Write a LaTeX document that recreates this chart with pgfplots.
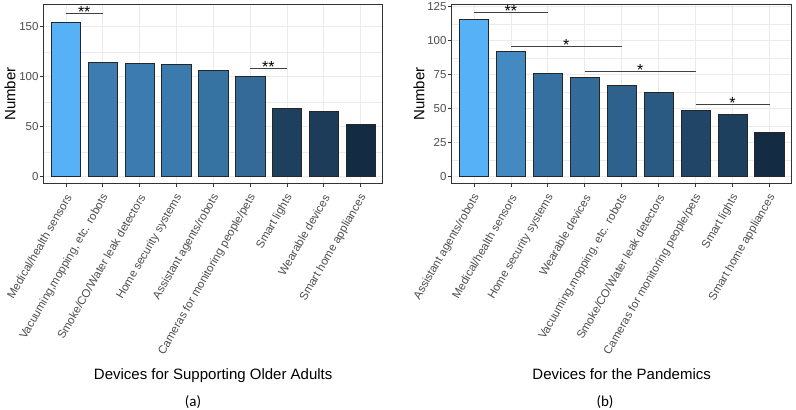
\documentclass[border=0pt]{standalone}
\usepackage{pgfplots}
\pgfplotsset{compat=1.18}
\usepackage{fontspec}
\setmainfont{Liberation Sans}
\newfontfamily\capfont{Carlito}
\definecolor{tickgrey}{HTML}{4D4D4D}
\definecolor{framegrey}{HTML}{333333}
\definecolor{gridgrey}{HTML}{EBEBEB}
\definecolor{sigline}{HTML}{404040}
% left panel bar colours
\definecolor{La}{RGB}{86,177,247}
\definecolor{Lb}{RGB}{60,124,176}
\definecolor{Lc}{RGB}{59,123,175}
\definecolor{Ld}{RGB}{58,122,173}
\definecolor{Le}{RGB}{54,114,162}
\definecolor{Lf}{RGB}{51,106,152}
\definecolor{Lg}{RGB}{29,64,95}
\definecolor{Lh}{RGB}{28,60,90}
\definecolor{Li}{RGB}{19,43,67}
% right panel bar colours
\definecolor{Ra}{RGB}{86,177,247}
\definecolor{Rb}{RGB}{67,138,195}
\definecolor{Rc}{RGB}{54,112,160}
\definecolor{Rd}{RGB}{51,108,154}
\definecolor{Re}{RGB}{46,98,141}
\definecolor{Rf}{RGB}{42,90,130}
\definecolor{Rg}{RGB}{32,69,102}
\definecolor{Rh}{RGB}{29,64,95}
\definecolor{Ri}{RGB}{19,43,67}
\pgfplotsset{
  panel/.style={
    scale only axis, height=179pt, anchor=south west,
    xmin=0.4, xmax=9.6, xtick={1,...,9},
    axis line style={framegrey, line width=0.8pt},
    grid=both,
    major grid style={gridgrey, line width=0.6pt},
    minor grid style={gridgrey, line width=0.3pt},
    tick align=outside, major tick length=4pt, minor tick length=0pt,
    tick style={framegrey, line width=0.6pt},
    tick pos=left,
    minor x tick num=0, minor y tick num=1,
    /pgf/number format/assume math mode=true,
    ticklabel style={font=\fontsize{11.5}{13}\selectfont, text=tickgrey},
    xticklabel style={xshift=3pt, yshift=-8pt, rotate=60, anchor=east, inner sep=0pt},
    yticklabel style={inner sep=1pt},
    clip=false,
  },
  bar/.style={ybar, bar width=0.8, bar shift=0pt, fill=#1, draw=black!85, line width=0.5pt},
  sig/.style={sigline, line width=0.6pt, no marks, sharp plot},
}
\tikzset{sigstar/.style={anchor=base, yshift=-4pt, inner sep=0pt, font=\fontsize{16}{16}\selectfont}}
\begin{document}
\begin{tikzpicture}
\useasboundingbox (0,0) rectangle (796pt,410pt);
% ---------------- left panel ----------------
\begin{axis}[panel, width=339pt, at={(43.7pt,226.7pt)},
  ymin=-6.6, ymax=172.4, ytick={0,50,100,150},
  xticklabels={Medical/health sensors,{Vacuuming,mopping, etc. robots},Smoke/CO/Water leak detectors,Home security systems,Assistant agents/robots,Cameras for monitoring people/pets,Smart lights,Wearable devices,Smart home appliances}]
\addplot[bar=La] coordinates {(1,154)};
\addplot[bar=Lb] coordinates {(2,114)};
\addplot[bar=Lc] coordinates {(3,113)};
\addplot[bar=Ld] coordinates {(4,112)};
\addplot[bar=Le] coordinates {(5,106)};
\addplot[bar=Lf] coordinates {(6,100)};
\addplot[bar=Lg] coordinates {(7,68)};
\addplot[bar=Lh] coordinates {(8,65)};
\addplot[bar=Li] coordinates {(9,52)};
\addplot[sig] coordinates {(1,163.5) (2,163.5)};
\addplot[sig] coordinates {(6,108.4) (7,108.4)};
\node[sigstar] at (axis cs:1.5,163.5) {**};
\node[sigstar] at (axis cs:6.5,108.4) {**};
\end{axis}
% ---------------- right panel ----------------
\begin{axis}[panel, width=340pt, at={(451.7pt,226.7pt)},
  ymin=-4.85, ymax=126.8, ytick={0,25,50,75,100,125},
  xticklabels={Assistant agents/robots,Medical/health sensors,Home security systems,Wearable devices,{Vacuuming,mopping, etc. robots},Smoke/CO/Water leak detectors,Cameras for monitoring people/pets,Smart lights,Smart home appliances}]
\addplot[bar=Ra] coordinates {(1,116)};
\addplot[bar=Rb] coordinates {(2,92)};
\addplot[bar=Rc] coordinates {(3,76)};
\addplot[bar=Rd] coordinates {(4,73)};
\addplot[bar=Re] coordinates {(5,67)};
\addplot[bar=Rf] coordinates {(6,62)};
\addplot[bar=Rg] coordinates {(7,49)};
\addplot[bar=Rh] coordinates {(8,46)};
\addplot[bar=Ri] coordinates {(9,33)};
\addplot[sig] coordinates {(1,120.9) (3,120.9)};
\addplot[sig] coordinates {(2,95.9) (5,95.9)};
\addplot[sig] coordinates {(4,77.7) (7,77.7)};
\addplot[sig] coordinates {(7,53.2) (9,53.2)};
\node[sigstar] at (axis cs:2,120.9) {**};
\node[sigstar] at (axis cs:3.5,95.9) {*};
\node[sigstar] at (axis cs:5.5,77.7) {*};
\node[sigstar] at (axis cs:8,53.2) {*};
\end{axis}
% ---------------- titles ----------------
\node[rotate=90, font=\fontsize{15}{18}\selectfont] at (10pt,316pt) {Number};
\node[rotate=90, font=\fontsize{15}{18}\selectfont] at (419pt,316pt) {Number};
\node[anchor=base, font=\fontsize{15}{18}\selectfont] at (213.2pt,30pt) {Devices for Supporting Older Adults};
\node[anchor=base, font=\fontsize{15}{18}\selectfont] at (621.7pt,30pt) {Devices for the Pandemics};
\node[font=\capfont\fontsize{15}{18}\selectfont] at (193pt,8pt) {(a)};
\node[font=\capfont\fontsize{15}{18}\selectfont] at (605pt,8pt) {(b)};
\end{tikzpicture}
\end{document}
